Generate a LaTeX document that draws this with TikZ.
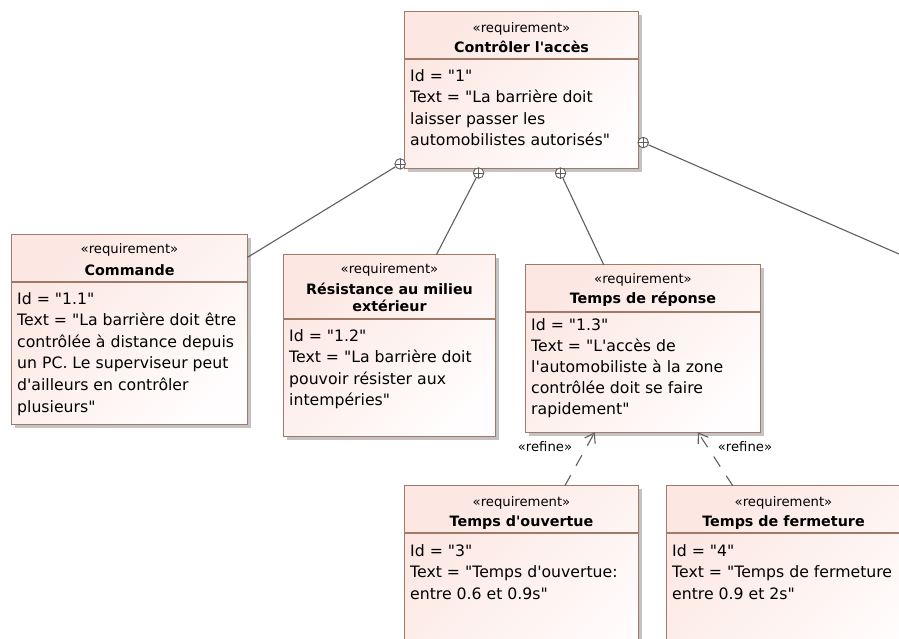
\documentclass[tikz,border=0pt]{standalone}
\usepackage{fontspec}
\usetikzlibrary{arrows.meta,calc}
\newfontfamily\uifont{DejaVu Sans}
\definecolor{reqborder}{RGB}{160,122,104}
\definecolor{reqpink}{RGB}{252,231,226}
\definecolor{reqwhite}{RGB}{255,253,253}
\definecolor{conncol}{RGB}{95,95,95}
\definecolor{shadowcol}{RGB}{195,195,195}
\newcommand\bodyfont{\uifont\fontsize{15.7pt}{21.5pt}\selectfont}
\newcommand\sterfont{\uifont\fontsize{13.2pt}{16pt}\selectfont}
\newcommand\titlefont{\uifont\bfseries\fontsize{14.3pt}{17pt}\selectfont}
% name x1 y1 x2 y2 sep
\newcommand\reqbox[6]{%
  \node[boxnode, minimum width={#4pt-#2pt}, minimum height={#5pt-#3pt}] (#1) at ({(#2+#4)/2},{(#3+#5)/2}) {};
  \fill[shadowcol] ([shift={(3.5,3.5)}]#1.south west) rectangle ([shift={(3.5,3.5)}]#1.north east);
  \shade[boxfill] (#1.south west) rectangle (#1.north east);
  \draw[boxborder] (#1.south west) rectangle (#1.north east);
  \draw[boxborder] (#2,#6) -- (#4,#6);
}
% name x y font text
\newcommand\ctext[5]{\node[txt, font=#4, anchor=base] (#1) at (#2,#3) {#5};}
% name x y0 dy font list
\newcommand\reqlines[6]{%
  \foreach \lineitem [count=\i from 0] in {#6} {
    \node[txt, font=#5, anchor=base west] (#1-\i) at (#2,{#3+#4*\i}) {\lineitem};
  }%
}
\begin{document}
\begin{tikzpicture}[x=1pt,y=-1pt,
  boxnode/.style={rectangle, inner sep=0pt, draw=none},
  boxfill/.style={top color=reqpink, bottom color=reqwhite, shading angle=45},
  boxborder/.style={draw=reqborder, line width=1.1pt},
  txt/.style={inner sep=0pt, text=black},
  conn/.style={draw=conncol, line width=1.1pt},
  helper/.style={sloped, allow upside down, anchor=west, circle, minimum size=10.5pt, inner sep=0pt},
  marker/.style={circle, draw=conncol, fill=white, line width=0.9pt, minimum size=10.5pt, inner sep=0pt,
    path picture={\draw[conncol, line width=0.8pt]
      (path picture bounding box.north) -- (path picture bounding box.south)
      (path picture bounding box.west) -- (path picture bounding box.east);}},
  refine/.style={draw=conncol, line width=1.1pt, dash pattern=on 12pt off 11pt,
    -{Straight Barb[length=9pt,width=12pt]}},
  refinelbl/.style={inner sep=0pt, font=\sterfont, anchor=base}
]
\useasboundingbox (0,0) rectangle (899,638);
\clip (0,0) rectangle (899,638);
\fill[white] (0,0) rectangle (899,638);

% top requirement
\reqbox{top}{405}{12}{638}{168}{59}
\ctext{top-st}{521.5}{32}{\sterfont}{«requirement»}
\ctext{top-t}{521.5}{52}{\titlefont}{Contrôler l'accès}
\reqlines{top-b}{410}{81}{21.5}{\bodyfont}{{Id = "1"},{Text = "La barrière doit},{laisser passer les},{automobilistes autorisés"}}

% Commande
\reqbox{com}{12}{235}{247}{424}{282}
\ctext{com-st}{129.5}{253}{\sterfont}{«requirement»}
\ctext{com-t}{129.5}{275}{\titlefont}{Commande}
\reqlines{com-b}{17}{304}{21.6}{\bodyfont}{{Id = "1.1"},{Text = "La barrière doit être},{contrôlée à distance depuis},{un PC. Le superviseur peut},{d'ailleurs en contrôler},{plusieurs"}}

% Resistance
\reqbox{res}{284}{255}{495}{436}{319}
\ctext{res-st}{389.5}{273}{\sterfont}{«requirement»}
\ctext{res-t1}{389.5}{294}{\titlefont}{Résistance au milieu}
\ctext{res-t2}{389.5}{311}{\titlefont}{extérieur}
\reqlines{res-b}{289}{341}{21.5}{\bodyfont}{{Id = "1.2"},{Text = "La barrière doit},{pouvoir résister aux},{intempéries"}}

% Temps de reponse
\reqbox{rep}{526}{265}{760}{432}{312}
\ctext{rep-st}{643}{283}{\sterfont}{«requirement»}
\ctext{rep-t}{643}{303}{\titlefont}{Temps de réponse}
\reqlines{rep-b}{531}{330}{21}{\bodyfont}{{Id = "1.3"},{Text = "L'accès de},{l'automobiliste à la zone},{contrôlée doit se faire},{rapidement"}}

% Temps d'ouvertue
\reqbox{ouv}{405}{486}{638}{700}{533}
\ctext{ouv-st}{521.5}{506}{\sterfont}{«requirement»}
\ctext{ouv-t}{521.5}{526}{\titlefont}{Temps d'ouvertue}
\reqlines{ouv-b}{410}{556}{21.5}{\bodyfont}{{Id = "3"},{Text = "Temps d'ouvertue:},{entre 0.6 et 0.9s"}}

% Temps de fermeture
\reqbox{fer}{667}{486}{900}{700}{533}
\ctext{fer-st}{783.5}{506}{\sterfont}{«requirement»}
\ctext{fer-t}{783.5}{526}{\titlefont}{Temps de fermeture}
\reqlines{fer-b}{672}{556}{21.5}{\bodyfont}{{Id = "4"},{Text = "Temps de fermeture},{entre 0.9 et 2s"}}

% containment connectors
\coordinate (offR) at (1000,298);
\path (top) -- (com) node[helper, pos=0] (mA0) {};
\node[marker] (mA) at (mA0) {};
\draw[conn] (mA) -- (com);
\path (top) -- (res) node[helper, pos=0] (mB0) {};
\node[marker] (mB) at (mB0) {};
\draw[conn] (mB) -- (res);
\path (top) -- (rep) node[helper, pos=0] (mC0) {};
\node[marker] (mC) at (mC0) {};
\draw[conn] (mC) -- (rep);
\path (top) -- (offR) node[helper, pos=0] (mD0) {};
\node[marker] (mD) at (mD0) {};
\draw[conn] (mD) -- (offR);

% refine connectors
\draw[refine] ($(ouv.north west)+(160,0)$) -- ($(rep.south west)+(69,0)$);
\draw[refine] ($(fer.north west)+(66,0)$) -- ($(rep.south west)+(172,0)$);
\node[refinelbl] (rl1) at (545,451) {«refine»};
\node[refinelbl] (rl2) at (745,451) {«refine»};
\end{tikzpicture}
\end{document}
